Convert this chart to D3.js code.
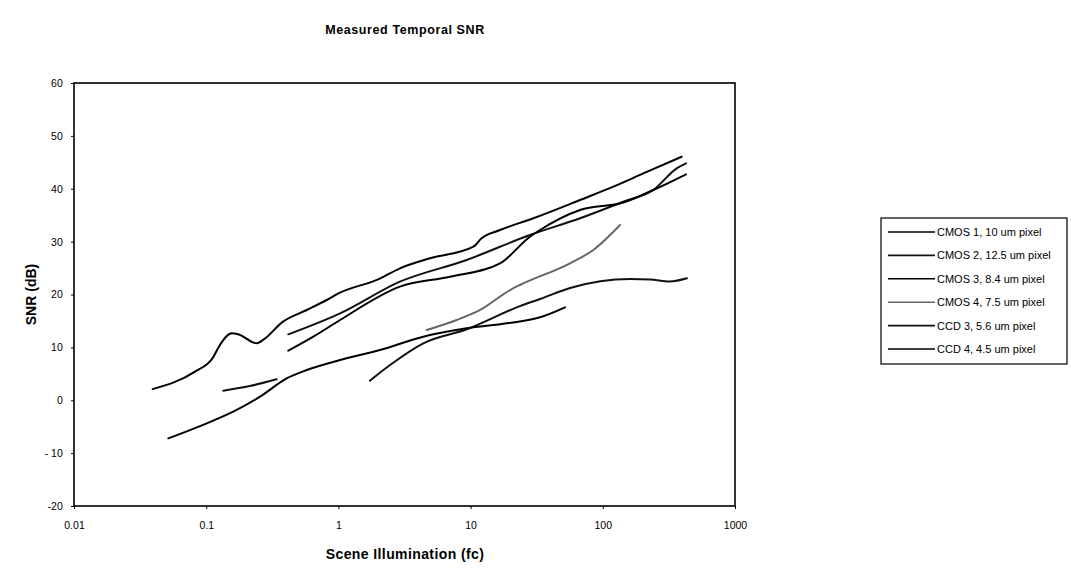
<!DOCTYPE html>
<html>
<head>
<meta charset="utf-8">
<script src="https://cdn.jsdelivr.net/npm/d3@7"></script>
<style>
  body { margin: 0; background: #fff; }
  svg { display: block; font-family: "Liberation Sans", Arial, sans-serif; }
  .axis path, .axis line { stroke: #000; }
  .axis text { font-size: 10.5px; fill: #000; }
  .frame { fill: none; stroke: #000; stroke-width: 1.6; }
  .series { fill: none; stroke-width: 2; stroke-linejoin: round; stroke-linecap: round; }
</style>
</head>
<body>
<div class="chart"></div>
<script>
var width = 1071, height = 571;

// values (x in fc, y in dB)
var xTicks = [0.01, 0.1, 1, 10, 100, 1000];
var xTickLabels = ["0.01", "0.1", "1", "10", "100", "1000"];
var yTicks = [-20, -10, 0, 10, 20, 30, 40, 50, 60];
var yTickLabels = ["-20", "- 10", "0", "10", "20", "30", "40", "50", "60"];

var seriesNames = ["CMOS 1, 10 um pixel", "CMOS 2, 12.5 um pixel", "CMOS 3, 8.4 um pixel",
  "CMOS 4, 7.5 um pixel", "CCD 3, 5.6 um pixel", "CCD 4, 4.5 um pixel"];

var cmos1X = [0.0394, 0.0822, 0.112, 0.127, 0.156, 0.174, 0.241, 0.269, 0.381, 0.576, 0.815, 1.0, 2.06, 2.92, 4.93, 10.5, 12.1, 16.7, 29.8, 67.3, 120, 215, 395];
var cmos1Y = [2.1, 5.4, 8.0, 10.45, 12.66, 12.5, 10.77, 11.4, 14.86, 17.07, 18.96, 20.2, 23.0, 24.95, 26.85, 29.04, 30.63, 32.2, 34.41, 37.87, 40.39, 43.2, 46.06];

var cmos2X = [0.418, 1.03, 2.92, 9.34, 28.1, 67.3, 143, 241, 362, 426];
var cmos2Y = [12.47, 16.44, 22.42, 26.53, 31.25, 34.41, 37.55, 39.76, 43.87, 44.81];

var cmos3X = [0.418, 0.646, 1.03, 2.92, 6.99, 16.7, 28.1, 33.5, 67.3, 143, 241, 426];
var cmos3Y = [9.37, 12.02, 15.18, 21.48, 23.37, 25.9, 30.93, 32.2, 35.98, 37.4, 39.76, 42.73];

var cmos4X = [4.66, 7.85, 11.8, 19.9, 23.6, 56.5, 84.8, 135];
var cmos4Y = [13.29, 15.18, 17.07, 20.85, 21.8, 25.9, 28.42, 33.14];

// null = gap in the measurement
var ccd3X = [0.1346, 0.214, 0.341, null, 1.73, 2.46, 4.39, 9.34, 23.6, 33.5, 56.5, 161, 228, 322, 433];
var ccd3Y = [1.81, 2.69, 3.96, null, 3.7, 6.67, 10.77, 13.42, 17.8, 19.15, 21.23, 22.93, 22.84, 22.46, 23.06];

var ccd4X = [0.0517, 0.101, 0.160, 0.255, 0.406, 0.576, 1.03, 2.06, 4.39, 9.34, 18.8, 33.5, 51.8];
var ccd4Y = [-7.2, -4.36, -2.16, 0.67, 4.15, 5.72, 7.61, 9.5, 12.02, 13.6, 14.55, 15.69, 17.58];

var allX = [cmos1X, cmos2X, cmos3X, cmos4X, ccd3X, ccd4X];
var allY = [cmos1Y, cmos2Y, cmos3Y, cmos4Y, ccd3Y, ccd4Y];
var colors = ["#000", "#111", "#000", "#666", "#111", "#000"];

var svg = d3.select(".chart").append("svg")
  .attr("width", width)
  .attr("height", height);

var x = d3.scaleLog().domain([0.01, 1000]).range([74, 735]);
var y = d3.scaleLinear().domain([-20, 60]).range([506, 83]);

svg.append("text")
  .attr("x", 405).attr("y", 34)
  .attr("text-anchor", "middle")
  .style("font-size", "12.5px").style("font-weight", "bold").style("letter-spacing", "0.6px")
  .text("Measured Temporal SNR");

svg.append("g")
  .attr("class", "axis")
  .attr("transform", "translate(0," + y(-20) + ")")
  .call(d3.axisBottom(x).tickValues(xTicks).tickSize(3).tickSizeOuter(0)
    .tickFormat(function(d, i) { return xTickLabels[i]; }))
  .call(function(g) { g.selectAll("text").attr("dy", "1.6em"); g.select(".domain").remove(); });

svg.append("g")
  .attr("class", "axis")
  .attr("transform", "translate(" + x(0.01) + ",0)")
  .call(d3.axisLeft(y).tickValues(yTicks).tickSize(3).tickSizeOuter(0)
    .tickFormat(function(d, i) { return yTickLabels[i]; }))
  .call(function(g) { g.selectAll("text").attr("dx", "-0.5em"); g.select(".domain").remove(); });

svg.append("rect")
  .attr("class", "frame")
  .attr("x", x(0.01)).attr("y", y(60))
  .attr("width", x(1000) - x(0.01)).attr("height", y(-20) - y(60));

svg.append("text")
  .attr("x", 405).attr("y", 559)
  .attr("text-anchor", "middle")
  .style("font-size", "14px").style("font-weight", "bold").style("letter-spacing", "0.4px")
  .text("Scene Illumination (fc)");

svg.append("text")
  .attr("transform", "translate(36," + ((y(60) + y(-20)) / 2) + ") rotate(-90)")
  .attr("text-anchor", "middle")
  .style("font-size", "14px").style("font-weight", "bold")
  .text("SNR (dB)");

var line = d3.line()
  .defined(function(d) { return d[0] !== null; })
  .x(function(d) { return x(d[0]); })
  .y(function(d) { return y(d[1]); })
  .curve(d3.curveMonotoneX);

for (var i = 0; i < allX.length; i++) {
  var pts = allX[i].map(function(v, j) { return [v, allY[i][j]]; });
  svg.append("path")
    .datum(pts)
    .attr("class", "series")
    .attr("stroke", colors[i])
    .attr("d", line);
}

// legend
var lg = svg.append("g").attr("transform", "translate(881,218)");
lg.append("rect")
  .attr("width", 186).attr("height", 146)
  .attr("fill", "none").attr("stroke", "#000").attr("stroke-width", 1.2);
seriesNames.forEach(function(name, i) {
  var ly = 14 + i * 23.4;
  lg.append("line")
    .attr("x1", 7).attr("x2", 54).attr("y1", ly).attr("y2", ly)
    .attr("stroke", colors[i]).attr("stroke-width", 1.6);
  lg.append("text")
    .attr("x", 56).attr("y", ly + 4)
    .style("font-size", "11px")
    .text(name);
});
</script>
</body>
</html>
